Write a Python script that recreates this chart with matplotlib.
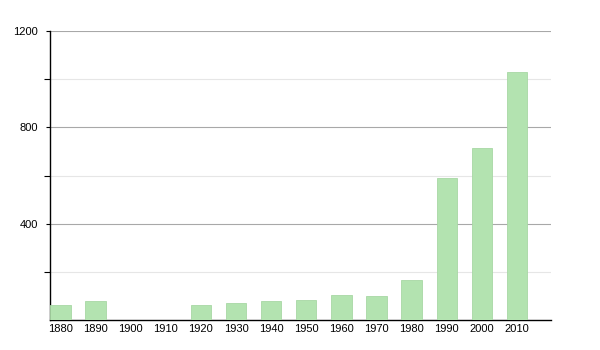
import matplotlib.pyplot as plt
from matplotlib.ticker import FixedLocator

years = ["1880", "1890", "1900", "1910", "1920", "1930", "1940", "1950",
         "1960", "1970", "1980", "1990", "2000", "2010"]
population = [62, 79, 0, 0, 62, 70, 79, 83, 104, 100, 166, 591, 716, 1030]

fig = plt.figure(figsize=(6, 3.5), dpi=100)
ax = fig.add_axes([0.0833, 0.0857, 0.835, 0.8257])

x = list(range(len(years)))
ax.bar(x, population, width=0.58, color="#b3e3b0", edgecolor="#a8d8a4", linewidth=0.6, zorder=3)

ax.set_xlim(-0.3, 13.97)
ax.set_ylim(0, 1200)
ax.set_xticks(x)
ax.set_xticklabels(years, fontsize=8, family="Liberation Sans")
ax.yaxis.set_major_locator(FixedLocator([400, 800, 1200]))
ax.yaxis.set_minor_locator(FixedLocator([200, 600, 1000]))
ax.set_yticklabels(["400", "800", "1200"], fontsize=8, family="Liberation Sans")

ax.grid(axis="y", which="major", color="#a8a8a8", linewidth=0.8, zorder=0)
ax.grid(axis="y", which="minor", color="#e6e6e6", linewidth=0.8, zorder=0)
ax.tick_params(axis="x", length=0, pad=3)
ax.tick_params(axis="y", which="major", length=3, width=0.8, pad=5.5)
ax.tick_params(axis="y", which="minor", length=4, width=0.8)

for s in ["top", "right"]:
    ax.spines[s].set_visible(False)
ax.spines["left"].set_linewidth(1.0)
ax.spines["bottom"].set_linewidth(1.0)

fig.savefig("out.png", dpi=100)
